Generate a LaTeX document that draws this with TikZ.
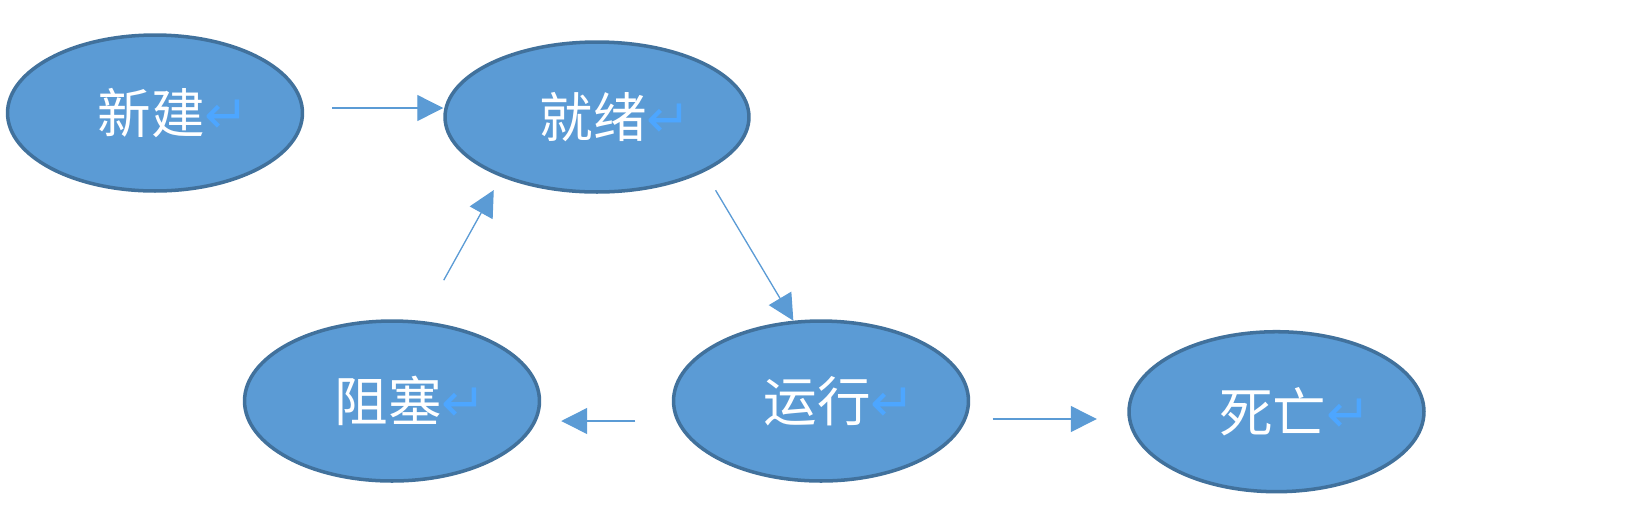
\documentclass[tikz,border=0pt]{standalone}
\usepackage{fontspec}
\usepackage{tikz}
\usetikzlibrary{shapes.geometric,arrows.meta}
\newfontfamily\cjk{Noto Sans CJK SC}
\newfontfamily\markfont{DejaVu Sans}
\definecolor{statefill}{RGB}{91,155,213}
\definecolor{stateline}{RGB}{65,113,156}
\definecolor{retmark}{RGB}{77,166,255}
\newcommand{\statename}[1]{\hspace*{0.75cm}#1{\markfont\color{retmark}↵}}

\begin{document}
\begin{tikzpicture}
	[x=0.02cm, y=-0.02cm,
	state/.style={ellipse, draw=stateline, line width=2pt, fill=statefill, minimum width=5.9cm, minimum height=3.2cm, inner sep=0pt, text=white, font={\cjk\fontsize{30.5pt}{32pt}\selectfont}},
	flow/.style={draw=statefill, line width=0.75pt, -{Triangle[length=0.52cm, width=0.52cm]}}]
	\useasboundingbox (0,0) rectangle (1652,512);
	\node[state, minimum height=3.12cm] (xinjian) at (155,113) {\statename{新建}};
	\node[state, minimum width=6.08cm, minimum height=3cm] (jiuxu) at (597,117) {\statename{就绪}};
	\node[state] (zuse) at (392,401) {\statename{阻塞}};
	\node[state] (yunxing) at (821,401) {\statename{运行}};
	\node[state] (siwang) at (1276.5,411.7) {\statename{死亡}};
	\draw[flow, shorten <=0.56cm] ([yshift=0.1cm]xinjian.east) -- ([yshift=0.1cm]xinjian.east -| jiuxu.west);
	\draw[flow, shorten <=0.43cm] (jiuxu.-27.8) -- (yunxing.109.5);
	\draw[flow, shorten <=0.73cm, shorten >=0.4cm] ([yshift=-0.4cm]yunxing.west) -- ([yshift=-0.4cm]yunxing.west -| zuse.east);
	\draw[flow, shorten <=0.93cm, shorten >=0.3cm] (zuse.70.1) -- (jiuxu.212.3);
	\draw[flow, shorten <=0.45cm, shorten >=0.61cm] ([yshift=-0.36cm]yunxing.east) -- ([yshift=-0.36cm]yunxing.east -| siwang.west);
\end{tikzpicture}
\end{document}
